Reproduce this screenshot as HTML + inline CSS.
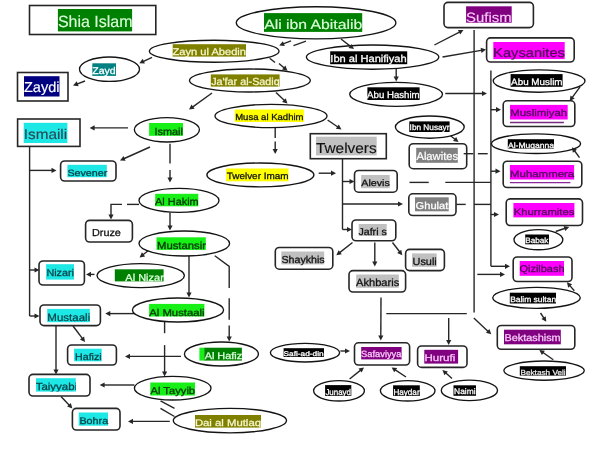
<!DOCTYPE html>
<html><head><meta charset="utf-8"><title>Shia Islam</title>
<style>
html,body{margin:0;padding:0;background:#fff;}
body{width:600px;height:464px;overflow:hidden;}
svg{display:block;font-family:"Liberation Sans",sans-serif;text-rendering:geometricPrecision;will-change:transform;filter:blur(0.35px);}
</style></head>
<body>
<svg width="600" height="464" viewBox="0 0 600 464">
<rect width="600" height="464" fill="#fff"/>
<path d="M474.1 30 L474.1 312.4" fill="none" stroke="#262626" stroke-width="1.4"/>
<path d="M490.9 70.5 L490.9 266.3" fill="none" stroke="#262626" stroke-width="1.4"/>
<path d="M490.9 266.3 L506.5 266.3" fill="none" stroke="#262626" stroke-width="1.4"/>
<path d="M466.8 313.6 L386.3 313.6" fill="none" stroke="#262626" stroke-width="1.4"/>
<path d="M306 41.2 L293.5 45.6" fill="none" stroke="#262626" stroke-width="1.4"/>
<path d="M291 40.8 L282.5 44.1" fill="none" stroke="#262626" stroke-width="1.4"/>
<path d="M341 39 L351.2 46.9" fill="none" stroke="#262626" stroke-width="1.4"/>
<path d="M152 57.3 L142.5 61.8" fill="none" stroke="#262626" stroke-width="1.4"/>
<path d="M85 81 L76.3 84.3" fill="none" stroke="#262626" stroke-width="1.4"/>
<path d="M269.7 58.3 L275 62.5" fill="none" stroke="#262626" stroke-width="1.4"/>
<path d="M279 63.5 L284.8 68.5" fill="none" stroke="#262626" stroke-width="1.4"/>
<path d="M212 93 L191.8 107.6" fill="none" stroke="#262626" stroke-width="1.4"/>
<path d="M276 92.4 L285 101.1" fill="none" stroke="#262626" stroke-width="1.4"/>
<path d="M396.2 68.7 L396.2 78" fill="none" stroke="#262626" stroke-width="1.4"/>
<path d="M434.4 45 L460.4 31.6" fill="none" stroke="#262626" stroke-width="1.4"/>
<path d="M442.5 57 L482.6 50.1" fill="none" stroke="#262626" stroke-width="1.4"/>
<path d="M445.3 93.5 L483.5 93.5" fill="none" stroke="#262626" stroke-width="1.4"/>
<path d="M327.6 120 L338.6 127.5" fill="none" stroke="#262626" stroke-width="1.4"/>
<path d="M275.2 127.5 L275.2 138" fill="none" stroke="#262626" stroke-width="1.4"/>
<path d="M275.2 141.5 L275.2 150.5" fill="none" stroke="#262626" stroke-width="1.4"/>
<path d="M318.7 173.2 L332.5 173.2" fill="none" stroke="#262626" stroke-width="1.4"/>
<path d="M128 127.9 L93.1 127.9" fill="none" stroke="#262626" stroke-width="1.4"/>
<path d="M150 147 L123.2 159" fill="none" stroke="#262626" stroke-width="1.4"/>
<path d="M170 143.8 L170 163.5" fill="none" stroke="#262626" stroke-width="1.4"/>
<path d="M170 170 L170 179.1" fill="none" stroke="#262626" stroke-width="1.4"/>
<path d="M139 204.4 L127 204.4" fill="none" stroke="#262626" stroke-width="1.4"/>
<path d="M122 204.4 L111 204.4 L111 212" fill="none" stroke="#262626" stroke-width="1.4"/>
<path d="M111 212 L111 216" fill="none" stroke="#262626" stroke-width="1.4"/>
<path d="M170 212.4 L170 227" fill="none" stroke="#262626" stroke-width="1.4"/>
<path d="M149 250 L142.4 255.2" fill="none" stroke="#262626" stroke-width="1.4"/>
<path d="M189 256 L189 294" fill="none" stroke="#262626" stroke-width="1.4"/>
<path d="M214.8 255.7 L229.2 266.4 L229.2 287.9" fill="none" stroke="#262626" stroke-width="1.4"/>
<path d="M229.2 298.2 L229.2 319.7" fill="none" stroke="#262626" stroke-width="1.4"/>
<path d="M229.2 325.4 L229.2 338" fill="none" stroke="#262626" stroke-width="1.4"/>
<path d="M94.5 274.4 L89.5 274.4" fill="none" stroke="#262626" stroke-width="1.4"/>
<path d="M139 313.6 L108.8 313.6" fill="none" stroke="#262626" stroke-width="1.4"/>
<path d="M164.6 321.3 L164.6 333.2" fill="none" stroke="#262626" stroke-width="1.4"/>
<path d="M164.6 345.1 L164.6 373.1" fill="none" stroke="#262626" stroke-width="1.4"/>
<path d="M181 356.4 L128.5 356.4" fill="none" stroke="#262626" stroke-width="1.4"/>
<path d="M134.4 385 L103.1 385" fill="none" stroke="#262626" stroke-width="1.4"/>
<path d="M160.5 400.9 L174.5 408.3" fill="none" stroke="#262626" stroke-width="1.4"/>
<path d="M160.5 408.3 L174.5 416.5" fill="none" stroke="#262626" stroke-width="1.4"/>
<path d="M169.8 421.4 L131.5 421.4" fill="none" stroke="#262626" stroke-width="1.4"/>
<path d="M29.6 146.4 L29.6 316" fill="none" stroke="#262626" stroke-width="1.4"/>
<path d="M29.6 170.4 L53 170.4" fill="none" stroke="#262626" stroke-width="1.4"/>
<path d="M29.6 270 L36 270" fill="none" stroke="#262626" stroke-width="1.4"/>
<path d="M29.6 316 L36 316" fill="none" stroke="#262626" stroke-width="1.4"/>
<path d="M56 325.6 L56 370.9" fill="none" stroke="#262626" stroke-width="1.4"/>
<path d="M73 326 L82.9 339.2" fill="none" stroke="#262626" stroke-width="1.4"/>
<path d="M61 396.4 L70 405.9" fill="none" stroke="#262626" stroke-width="1.4"/>
<path d="M342.5 158.7 L342.5 229.5" fill="none" stroke="#262626" stroke-width="1.4"/>
<path d="M342.5 181.5 L351 181.5" fill="none" stroke="#262626" stroke-width="1.4"/>
<path d="M342.5 204 L399.5 204" fill="none" stroke="#262626" stroke-width="1.4"/>
<path d="M342.5 229.5 L348.5 229.5" fill="none" stroke="#262626" stroke-width="1.4"/>
<path d="M409.5 182.4 L428.7 182.4" fill="none" stroke="#262626" stroke-width="1.4"/>
<path d="M445.3 182.4 L490.9 182.4" fill="none" stroke="#262626" stroke-width="1.4"/>
<path d="M456.3 204.4 L465.7 204.4" fill="none" stroke="#262626" stroke-width="1.4"/>
<path d="M474.1 204.4 L490.9 204.4" fill="none" stroke="#262626" stroke-width="1.4"/>
<path d="M477.9 153.7 L487.7 153.7" fill="none" stroke="#262626" stroke-width="1.4"/>
<path d="M449.2 134.7 L455.7 139.8" fill="none" stroke="#262626" stroke-width="1.4"/>
<path d="M352.5 242.5 L339 253.1" fill="none" stroke="#262626" stroke-width="1.4"/>
<path d="M374.8 242.5 L374.8 263" fill="none" stroke="#262626" stroke-width="1.4"/>
<path d="M392.5 242.5 L400.2 252.5" fill="none" stroke="#262626" stroke-width="1.4"/>
<path d="M381 297.4 L380.8 337" fill="none" stroke="#262626" stroke-width="1.4"/>
<path d="M448.7 318 L448.7 341.5" fill="none" stroke="#262626" stroke-width="1.4"/>
<path d="M340.4 351 L346.5 351" fill="none" stroke="#262626" stroke-width="1.4"/>
<path d="M349.6 379 L361.3 369.6" fill="none" stroke="#262626" stroke-width="1.4"/>
<path d="M406 377 L394.5 369.3" fill="none" stroke="#262626" stroke-width="1.4"/>
<path d="M452 378.6 L445 372.3" fill="none" stroke="#262626" stroke-width="1.4"/>
<path d="M490.9 109.7 L497.5 109.7" fill="none" stroke="#262626" stroke-width="1.4"/>
<path d="M490.9 171.2 L497 171.2" fill="none" stroke="#262626" stroke-width="1.4"/>
<path d="M490.9 214.5 L495.5 214.5" fill="none" stroke="#262626" stroke-width="1.4"/>
<path d="M477.3 274.4 L501.5 274.4" fill="none" stroke="#262626" stroke-width="1.4"/>
<path d="M473.8 318 L488.7 331.9" fill="none" stroke="#262626" stroke-width="1.4"/>
<path d="M580 86.8 L571.8 98.2" fill="none" stroke="#262626" stroke-width="1.4"/>
<path d="M579.5 157.7 L574 150" fill="none" stroke="#262626" stroke-width="1.4"/>
<path d="M555.7 231.5 L565.9 228" fill="none" stroke="#262626" stroke-width="1.4"/>
<path d="M574.3 290.8 L569.2 284.9" fill="none" stroke="#262626" stroke-width="1.4"/>
<path d="M540.5 313 L544.4 318.9" fill="none" stroke="#262626" stroke-width="1.4"/>
<path d="M553.3 359.8 L542.2 352" fill="none" stroke="#262626" stroke-width="1.4"/>
<rect x="29.5" y="5.5" width="126.3" height="29" rx="0" fill="#fff" stroke="#262626" stroke-width="1.6"/>
<rect x="57.9" y="9" width="74.2" height="22.4" fill="#008000"/>
<text x="57.9" y="27" font-size="16.3" fill="#dcffdc" stroke="#dcffdc" stroke-width="0.15" textLength="74.6" lengthAdjust="spacingAndGlyphs">Shia Islam</text>
<rect x="17.5" y="72.5" width="50.5" height="28.5" rx="0" fill="#fff" stroke="#262626" stroke-width="1.6"/>
<rect x="24" y="76.2" width="35.5" height="20.3" fill="#000080"/>
<text x="24" y="91.6" font-size="14.5" fill="#ffffff" stroke="#ffffff" stroke-width="0.15" textLength="35.5" lengthAdjust="spacingAndGlyphs">Zaydi</text>
<rect x="17.6" y="119" width="62.4" height="27.4" rx="0" fill="#fff" stroke="#262626" stroke-width="1.6"/>
<rect x="23.7" y="122.8" width="43.7" height="20.2" fill="#1ee8e6"/>
<text x="23.8" y="138.7" font-size="14.1" fill="#2a4756" stroke="#2a4756" stroke-width="0.15" textLength="43.3" lengthAdjust="spacingAndGlyphs">Ismaili</text>
<rect x="60.6" y="161" width="55.4" height="20" rx="4" fill="#fff" stroke="#262626" stroke-width="1.6"/>
<rect x="67.4" y="164.8" width="39.4" height="12.4" fill="#1ee8e6"/>
<text x="67.4" y="175.6" font-size="9.1" fill="#083e44" stroke="#083e44" stroke-width="0.28" textLength="39.9" lengthAdjust="spacingAndGlyphs">Sevener</text>
<rect x="85.6" y="220.4" width="46.8" height="21.6" rx="4" fill="#fff" stroke="#262626" stroke-width="1.6"/>
<text x="92" y="235.5" font-size="10.1" fill="#111111" stroke="#111111" stroke-width="0.28" textLength="28.9" lengthAdjust="spacingAndGlyphs">Druze</text>
<rect x="39" y="261" width="45.4" height="24" rx="4" fill="#fff" stroke="#262626" stroke-width="1.6"/>
<rect x="46.1" y="264.2" width="27.9" height="15.4" fill="#1ee8e6"/>
<text x="46.4" y="275.6" font-size="9.8" fill="#083e44" stroke="#083e44" stroke-width="0.28" textLength="27.6" lengthAdjust="spacingAndGlyphs">Nizari</text>
<rect x="40" y="305" width="60.4" height="20.6" rx="4" fill="#fff" stroke="#262626" stroke-width="1.6"/>
<rect x="47.2" y="308.9" width="42.6" height="13.3" fill="#1ee8e6"/>
<text x="47.3" y="321.4" font-size="10.6" fill="#083e44" stroke="#083e44" stroke-width="0.22" textLength="42.9" lengthAdjust="spacingAndGlyphs">Mustaali</text>
<rect x="67.6" y="345" width="48.8" height="20" rx="4" fill="#fff" stroke="#262626" stroke-width="1.6"/>
<rect x="74.1" y="348.7" width="27.6" height="12.6" fill="#1ee8e6"/>
<text x="75" y="360.4" font-size="9.6" fill="#083e44" stroke="#083e44" stroke-width="0.28" textLength="26.7" lengthAdjust="spacingAndGlyphs">Hafizi</text>
<rect x="29" y="374.4" width="61" height="21.6" rx="4" fill="#fff" stroke="#262626" stroke-width="1.6"/>
<rect x="36" y="378.2" width="39.8" height="13.4" fill="#1ee8e6"/>
<clipPath id="c105"><rect x="36" y="378.2" width="39.8" height="13.4"/></clipPath>
<text x="35.7" y="390.4" font-size="10.2" fill="#083e44" stroke="#083e44" stroke-width="0.28" textLength="41.5" lengthAdjust="spacingAndGlyphs" clip-path="url(#c105)">Taiyyabi</text>
<rect x="72.4" y="408.4" width="47.6" height="21.6" rx="4" fill="#fff" stroke="#262626" stroke-width="1.6"/>
<rect x="78.7" y="412.5" width="29.3" height="13.2" fill="#1ee8e6"/>
<text x="79.4" y="423.8" font-size="9.6" fill="#083e44" stroke="#083e44" stroke-width="0.28" textLength="28.8" lengthAdjust="spacingAndGlyphs">Bohra</text>
<rect x="310.3" y="133.7" width="76" height="25" rx="0" fill="#fff" stroke="#262626" stroke-width="1.6"/>
<rect x="316" y="136.7" width="60.7" height="18.7" fill="#c0c0c0"/>
<text x="316" y="153.1" font-size="14.5" fill="#111111" stroke="#111111" stroke-width="0.15" textLength="60.6" lengthAdjust="spacingAndGlyphs">Twelvers</text>
<rect x="354.5" y="170.5" width="42.7" height="21.7" rx="4" fill="#fff" stroke="#262626" stroke-width="1.6"/>
<rect x="361.1" y="175" width="28.6" height="13.2" fill="#c0c0c0"/>
<text x="361.3" y="185.5" font-size="9.2" fill="#111111" stroke="#111111" stroke-width="0.28" textLength="28.5" lengthAdjust="spacingAndGlyphs">Alevis</text>
<rect x="409.2" y="143.7" width="57.5" height="25" rx="4" fill="#fff" stroke="#262626" stroke-width="1.6"/>
<rect x="416.2" y="147.8" width="41.6" height="15" fill="#808080"/>
<text x="416.4" y="160.2" font-size="11.3" fill="#ffffff" stroke="#ffffff" stroke-width="0.22" textLength="41.8" lengthAdjust="spacingAndGlyphs">Alawites</text>
<rect x="408.8" y="193.8" width="47.2" height="21.7" rx="4" fill="#fff" stroke="#262626" stroke-width="1.6"/>
<rect x="415" y="197.3" width="33.7" height="14" fill="#808080"/>
<text x="415.6" y="208.7" font-size="9.9" fill="#ffffff" stroke="#ffffff" stroke-width="0.28" textLength="32.8" lengthAdjust="spacingAndGlyphs">Ghulat</text>
<rect x="352" y="220" width="43.8" height="20.8" rx="4" fill="#fff" stroke="#262626" stroke-width="1.6"/>
<rect x="358.7" y="224" width="28" height="12" fill="#c0c0c0"/>
<text x="358.4" y="235.2" font-size="9.9" fill="#111111" stroke="#111111" stroke-width="0.28" textLength="28.4" lengthAdjust="spacingAndGlyphs">Jafri s</text>
<rect x="275.3" y="247.5" width="57.5" height="21.7" rx="4" fill="#fff" stroke="#262626" stroke-width="1.6"/>
<rect x="281.3" y="251.5" width="42.9" height="12.9" fill="#c0c0c0"/>
<text x="281.5" y="262.7" font-size="10.1" fill="#111111" stroke="#111111" stroke-width="0.28" textLength="43.2" lengthAdjust="spacingAndGlyphs">Shaykhis</text>
<rect x="405.6" y="249.4" width="38.8" height="21.2" rx="4" fill="#fff" stroke="#262626" stroke-width="1.6"/>
<rect x="412" y="253.4" width="24.7" height="13.4" fill="#c0c0c0"/>
<text x="412.5" y="265.1" font-size="10.3" fill="#111111" stroke="#111111" stroke-width="0.28" textLength="24.3" lengthAdjust="spacingAndGlyphs">Usuli</text>
<rect x="349" y="270.6" width="56.6" height="21.4" rx="4" fill="#fff" stroke="#262626" stroke-width="1.6"/>
<rect x="356.2" y="274.5" width="42.6" height="13.3" fill="#c0c0c0"/>
<text x="356.1" y="286" font-size="10.5" fill="#111111" stroke="#111111" stroke-width="0.28" textLength="43.1" lengthAdjust="spacingAndGlyphs">Akhbaris</text>
<rect x="354.5" y="342.8" width="55.1" height="22.2" rx="4" fill="#fff" stroke="#262626" stroke-width="1.6"/>
<rect x="361.2" y="347" width="40.4" height="12.4" fill="#800080"/>
<text x="361" y="357.2" font-size="9.1" fill="#f8c8f8" stroke="#f8c8f8" stroke-width="0.28" textLength="40.5" lengthAdjust="spacingAndGlyphs">Safaviyya</text>
<rect x="417.6" y="346" width="49.4" height="21.4" rx="4" fill="#fff" stroke="#262626" stroke-width="1.6"/>
<rect x="424.3" y="349.8" width="33.8" height="13.8" fill="#800080"/>
<text x="424.5" y="361" font-size="9.6" fill="#f8c8f8" stroke="#f8c8f8" stroke-width="0.28" textLength="30.7" lengthAdjust="spacingAndGlyphs">Hurufi</text>
<rect x="444" y="2.4" width="89.4" height="25.2" rx="4" fill="#fff" stroke="#262626" stroke-width="1.6"/>
<rect x="466.1" y="6.3" width="45.6" height="16.4" fill="#800080"/>
<text x="466.1" y="21.6" font-size="13.5" fill="#f8c8f8" stroke="#f8c8f8" stroke-width="0.15" textLength="45.5" lengthAdjust="spacingAndGlyphs">Sufism</text>
<rect x="486.6" y="37.9" width="87.6" height="24.1" rx="4" fill="#fff" stroke="#262626" stroke-width="1.6"/>
<rect x="493.3" y="42" width="71.4" height="17.1" fill="#ff00ff"/>
<text x="493.1" y="56.9" font-size="12.6" fill="#4d0a55" stroke="#4d0a55" stroke-width="0.22" textLength="71.8" lengthAdjust="spacingAndGlyphs">Kaysanites</text>
<rect x="503.2" y="100.8" width="71.6" height="25.7" rx="4" fill="#fff" stroke="#262626" stroke-width="1.6"/>
<rect x="510" y="104.9" width="57.7" height="14.6" fill="#ff00ff"/>
<text x="510.3" y="116.4" font-size="9.6" fill="#4d0a55" stroke="#4d0a55" stroke-width="0.28" textLength="56.9" lengthAdjust="spacingAndGlyphs">Muslimiyah</text>
<line x1="510" y1="122.5" x2="563.9" y2="122.5" stroke="#7a2a80" stroke-width="1.3"/>
<rect x="503.2" y="161.2" width="78.6" height="26.3" rx="4" fill="#fff" stroke="#262626" stroke-width="1.6"/>
<rect x="509.9" y="165" width="64.2" height="14.5" fill="#ff00ff"/>
<text x="510" y="176.8" font-size="9.2" fill="#4d0a55" stroke="#4d0a55" stroke-width="0.28" textLength="64.2" lengthAdjust="spacingAndGlyphs">Muhammera</text>
<line x1="509.9" y1="182.6" x2="570.4" y2="182.6" stroke="#8a2a9a" stroke-width="1.3"/>
<rect x="506.2" y="198.9" width="76.3" height="26.6" rx="4" fill="#fff" stroke="#262626" stroke-width="1.6"/>
<rect x="513.4" y="203" width="61" height="14.4" fill="#ff00ff"/>
<text x="513.7" y="214.6" font-size="9.1" fill="#4d0a55" stroke="#4d0a55" stroke-width="0.28" textLength="60.7" lengthAdjust="spacingAndGlyphs">Khurramites</text>
<rect x="513.2" y="257" width="58.8" height="24.5" rx="4" fill="#fff" stroke="#262626" stroke-width="1.6"/>
<rect x="519.7" y="261" width="44.3" height="14.8" fill="#ff00ff"/>
<text x="519.5" y="272.3" font-size="9.8" fill="#4d0a55" stroke="#4d0a55" stroke-width="0.28" textLength="45" lengthAdjust="spacingAndGlyphs">Qizilbash</text>
<rect x="497.3" y="325.5" width="77.5" height="23.8" rx="4" fill="#fff" stroke="#262626" stroke-width="1.6"/>
<rect x="504" y="329.7" width="56.8" height="14.6" fill="#800080"/>
<text x="504.4" y="340.9" font-size="9.9" fill="#f8c8f8" stroke="#f8c8f8" stroke-width="0.28" textLength="56.3" lengthAdjust="spacingAndGlyphs">Bektashism</text>
<ellipse cx="316.1" cy="22.8" rx="79.8" ry="16" fill="#fff" stroke="#141414" stroke-width="1.35"/>
<rect x="264" y="13.1" width="98.2" height="18.8" fill="#008000"/>
<text x="264.2" y="29.1" font-size="13.3" fill="#dcffdc" stroke="#dcffdc" stroke-width="0.15" textLength="98.1" lengthAdjust="spacingAndGlyphs">Ali ibn Abitalib</text>
<ellipse cx="214.2" cy="51.2" rx="64.8" ry="11" fill="#fff" stroke="#141414" stroke-width="1.35"/>
<rect x="172.7" y="44.2" width="73.3" height="12.4" fill="#808000"/>
<text x="172.6" y="55.3" font-size="9.8" fill="#f6f6cc" stroke="#f6f6cc" stroke-width="0.28" textLength="73.4" lengthAdjust="spacingAndGlyphs">Zayn ul Abedin</text>
<ellipse cx="109.5" cy="69.2" rx="30" ry="12.2" fill="#fff" stroke="#141414" stroke-width="1.35"/>
<rect x="92.3" y="63.3" width="23.7" height="12.6" fill="#008080"/>
<text x="92.3" y="74.3" font-size="9.8" fill="#ffffff" stroke="#ffffff" stroke-width="0.28" textLength="23.4" lengthAdjust="spacingAndGlyphs">Zayd</text>
<ellipse cx="249.9" cy="80.5" rx="60.4" ry="11.5" fill="#fff" stroke="#141414" stroke-width="1.35"/>
<rect x="210.8" y="74.4" width="68.8" height="12.2" fill="#808000"/>
<clipPath id="c174"><rect x="210.8" y="74.4" width="68.8" height="12.2"/></clipPath>
<text x="211.2" y="85.4" font-size="10.3" fill="#f6f6cc" stroke="#f6f6cc" stroke-width="0.28" textLength="68.5" lengthAdjust="spacingAndGlyphs" clip-path="url(#c174)">Ja'far al-Sadiq</text>
<ellipse cx="372.6" cy="57.1" rx="66.2" ry="12.1" fill="#fff" stroke="#141414" stroke-width="1.35"/>
<rect x="330.2" y="51.3" width="77" height="12.9" fill="#000000"/>
<text x="330.3" y="62.2" font-size="10.1" fill="#ffffff" stroke="#ffffff" stroke-width="0.28" textLength="76.4" lengthAdjust="spacingAndGlyphs">Ibn al Hanifiyah</text>
<ellipse cx="396.1" cy="94.3" rx="46.4" ry="12" fill="#fff" stroke="#141414" stroke-width="1.35"/>
<rect x="367.4" y="87.3" width="52.2" height="12.7" fill="#000000"/>
<text x="367.1" y="98.1" font-size="9.5" fill="#ffffff" stroke="#ffffff" stroke-width="0.28" textLength="52.5" lengthAdjust="spacingAndGlyphs">Abu Hashim</text>
<ellipse cx="271" cy="116" rx="56" ry="11.6" fill="#fff" stroke="#141414" stroke-width="1.35"/>
<rect x="234.8" y="109.5" width="69.1" height="12.5" fill="#ffff00"/>
<text x="235.2" y="119.8" font-size="8.8" fill="#111111" stroke="#111111" stroke-width="0.28" textLength="68.3" lengthAdjust="spacingAndGlyphs">Musa al Kadhim</text>
<ellipse cx="166.9" cy="129.8" rx="32.5" ry="12.2" fill="#fff" stroke="#141414" stroke-width="1.35"/>
<rect x="149.1" y="123" width="33.9" height="12.8" fill="#16f016"/>
<text x="154.5" y="134.7" font-size="10.2" fill="#0c300c" stroke="#0c300c" stroke-width="0.28" textLength="28.4" lengthAdjust="spacingAndGlyphs">Ismail</text>
<ellipse cx="260.4" cy="174.9" rx="53.5" ry="11.9" fill="#fff" stroke="#141414" stroke-width="1.35"/>
<rect x="226.1" y="168.5" width="62.4" height="12.8" fill="#ffff00"/>
<text x="226.7" y="178.9" font-size="9.1" fill="#111111" stroke="#111111" stroke-width="0.28" textLength="61.9" lengthAdjust="spacingAndGlyphs">Twelver Imam</text>
<ellipse cx="179" cy="200.4" rx="40" ry="12" fill="#fff" stroke="#141414" stroke-width="1.35"/>
<rect x="155.2" y="193.8" width="43.1" height="12.5" fill="#16f016"/>
<text x="155.1" y="205.4" font-size="10.1" fill="#0c300c" stroke="#0c300c" stroke-width="0.28" textLength="43.6" lengthAdjust="spacingAndGlyphs">Al Hakim</text>
<ellipse cx="184.3" cy="243.5" rx="45.3" ry="12.5" fill="#fff" stroke="#141414" stroke-width="1.35"/>
<rect x="156.5" y="237.3" width="49.3" height="12.6" fill="#16f016"/>
<text x="157" y="249" font-size="10.3" fill="#0c300c" stroke="#0c300c" stroke-width="0.28" textLength="49" lengthAdjust="spacingAndGlyphs">Mustansir</text>
<ellipse cx="140.7" cy="275.6" rx="43.7" ry="12" fill="#fff" stroke="#141414" stroke-width="1.35"/>
<rect x="114.8" y="269.3" width="48.8" height="12.1" fill="#008000"/>
<text x="125.3" y="280.5" font-size="10.1" fill="#dcffdc" stroke="#dcffdc" stroke-width="0.28" textLength="38.6" lengthAdjust="spacingAndGlyphs">Al Nizar</text>
<ellipse cx="178" cy="310" rx="45.6" ry="12" fill="#fff" stroke="#141414" stroke-width="1.35"/>
<rect x="149.1" y="303.9" width="55.3" height="12.6" fill="#16f016"/>
<text x="149.2" y="315.5" font-size="9.9" fill="#0c300c" stroke="#0c300c" stroke-width="0.28" textLength="55.4" lengthAdjust="spacingAndGlyphs">Al Mustaali</text>
<ellipse cx="221.4" cy="354" rx="37" ry="12" fill="#fff" stroke="#141414" stroke-width="1.35"/>
<rect x="199.4" y="347.7" width="5.2" height="12.9" fill="#16f016"/>
<rect x="204.3" y="347.7" width="37.6" height="12.9" fill="#008000"/>
<text x="204.7" y="358.6" font-size="9.6" fill="#dcffdc" stroke="#dcffdc" stroke-width="0.28" textLength="37.4" lengthAdjust="spacingAndGlyphs">Al Hafiz</text>
<ellipse cx="172.7" cy="388.2" rx="38.3" ry="11.8" fill="#fff" stroke="#141414" stroke-width="1.35"/>
<rect x="150.3" y="382.5" width="44.7" height="13" fill="#16f016"/>
<text x="150.5" y="393.8" font-size="9.9" fill="#0c300c" stroke="#0c300c" stroke-width="0.28" textLength="44.6" lengthAdjust="spacingAndGlyphs">Al Tayyib</text>
<ellipse cx="229.9" cy="420.6" rx="56.6" ry="12.2" fill="#fff" stroke="#141414" stroke-width="1.35"/>
<rect x="195" y="415" width="66" height="12.6" fill="#808000"/>
<clipPath id="c212"><rect x="195" y="415" width="66" height="12.6"/></clipPath>
<text x="194.9" y="425.8" font-size="9.6" fill="#f6f6cc" stroke="#f6f6cc" stroke-width="0.28" textLength="66.1" lengthAdjust="spacingAndGlyphs" clip-path="url(#c212)">Dai al Mutlaq</text>
<ellipse cx="429.8" cy="127.1" rx="34.4" ry="11.1" fill="#fff" stroke="#141414" stroke-width="1.35"/>
<rect x="409.3" y="121.4" width="40.3" height="10.6" fill="#000000"/>
<text x="409.6" y="130" font-size="8.1" fill="#ffffff" stroke="#ffffff" stroke-width="0.28" textLength="39.9" lengthAdjust="spacingAndGlyphs">Ibn Nusayr</text>
<ellipse cx="539.1" cy="81" rx="45.9" ry="11.2" fill="#fff" stroke="#141414" stroke-width="1.35"/>
<rect x="510.6" y="74.1" width="52" height="12.7" fill="#000000"/>
<text x="511.1" y="84.6" font-size="9.1" fill="#ffffff" stroke="#ffffff" stroke-width="0.28" textLength="51.5" lengthAdjust="spacingAndGlyphs">Abu Muslim</text>
<ellipse cx="536" cy="143.7" rx="44.6" ry="9.8" fill="#fff" stroke="#141414" stroke-width="1.35"/>
<rect x="507.8" y="139.2" width="46.2" height="9.4" fill="#000000"/>
<text x="508" y="147.5" font-size="7.8" fill="#ffffff" stroke="#ffffff" stroke-width="0.28" textLength="46.1" lengthAdjust="spacingAndGlyphs">Al-Muqanna</text>
<ellipse cx="538.4" cy="239.7" rx="24.4" ry="10.1" fill="#fff" stroke="#141414" stroke-width="1.35"/>
<rect x="525.2" y="234.5" width="23.8" height="9.8" fill="#000000"/>
<text x="525.2" y="242.8" font-size="7.7" fill="#ffffff" stroke="#ffffff" stroke-width="0.28" textLength="23.3" lengthAdjust="spacingAndGlyphs">Babak</text>
<ellipse cx="536.5" cy="297.8" rx="43.8" ry="10.5" fill="#fff" stroke="#141414" stroke-width="1.35"/>
<rect x="509.8" y="292.7" width="46.2" height="10.8" fill="#000000"/>
<text x="510.2" y="301.5" font-size="7.8" fill="#ffffff" stroke="#ffffff" stroke-width="0.28" textLength="45.9" lengthAdjust="spacingAndGlyphs">Balim sultan</text>
<ellipse cx="544.1" cy="370.6" rx="40.2" ry="9.6" fill="#fff" stroke="#141414" stroke-width="1.35"/>
<rect x="519.8" y="366.2" width="46.2" height="9.4" fill="#000000"/>
<text x="520.5" y="374.7" font-size="7.4" fill="#e8e8e8" stroke="#e8e8e8" stroke-width="0.28" textLength="45.1" lengthAdjust="spacingAndGlyphs">Bektash Veli</text>
<ellipse cx="305" cy="352.7" rx="34.6" ry="9.3" fill="#fff" stroke="#141414" stroke-width="1.35"/>
<rect x="283.6" y="348.2" width="40.4" height="8.8" fill="#000000"/>
<text x="283.5" y="356.2" font-size="6.8" fill="#ffffff" stroke="#ffffff" stroke-width="0.28" textLength="40.2" lengthAdjust="spacingAndGlyphs">Safi-ad-din</text>
<ellipse cx="339" cy="390.8" rx="25.4" ry="10.2" fill="#fff" stroke="#141414" stroke-width="1.35"/>
<rect x="325.1" y="385.1" width="26.2" height="10.8" fill="#000000"/>
<text x="325.4" y="394.5" font-size="8.4" fill="#ffffff" stroke="#ffffff" stroke-width="0.28" textLength="25.6" lengthAdjust="spacingAndGlyphs">Junayd</text>
<ellipse cx="407.7" cy="390.8" rx="27.3" ry="10.2" fill="#fff" stroke="#141414" stroke-width="1.35"/>
<rect x="393.1" y="385.3" width="26.7" height="10.6" fill="#000000"/>
<text x="393.4" y="394.5" font-size="8.4" fill="#ffffff" stroke="#ffffff" stroke-width="0.28" textLength="26.2" lengthAdjust="spacingAndGlyphs">Haydar</text>
<ellipse cx="469.4" cy="390.4" rx="28.1" ry="10.2" fill="#fff" stroke="#141414" stroke-width="1.35"/>
<rect x="453.5" y="385.3" width="22.5" height="10.5" fill="#000000"/>
<text x="454.1" y="394.4" font-size="8" fill="#ffffff" stroke="#ffffff" stroke-width="0.28" textLength="21.4" lengthAdjust="spacingAndGlyphs">Naimi</text>
<path d="M510 266.3 L505 268.9 L505 263.7 Z" fill="#262626"/>
<path d="M279.2 45.4 L282.9 41.2 L284.8 46 Z" fill="#262626"/>
<path d="M354 49 L348.5 48 L351.6 43.9 Z" fill="#262626"/>
<path d="M139.3 63.3 L142.7 58.8 L144.9 63.5 Z" fill="#262626"/>
<path d="M73 85.5 L76.8 81.3 L78.6 86.2 Z" fill="#262626"/>
<path d="M287.5 70.8 L282 69.5 L285.4 65.6 Z" fill="#262626"/>
<path d="M189 109.6 L191.5 104.6 L194.6 108.8 Z" fill="#262626"/>
<path d="M287.5 103.5 L282.1 101.9 L285.7 98.2 Z" fill="#262626"/>
<path d="M396.2 81.5 L393.6 76.5 L398.8 76.5 Z" fill="#262626"/>
<path d="M463.5 30 L460.2 34.6 L457.9 30 Z" fill="#262626"/>
<path d="M486 49.5 L481.5 52.9 L480.6 47.8 Z" fill="#262626"/>
<path d="M487 93.5 L482 96.1 L482 90.9 Z" fill="#262626"/>
<path d="M341.5 129.5 L335.9 128.8 L338.8 124.5 Z" fill="#262626"/>
<path d="M275.2 154 L272.6 149 L277.8 149 Z" fill="#262626"/>
<path d="M336 173.2 L331 175.8 L331 170.6 Z" fill="#262626"/>
<path d="M89.6 127.9 L94.6 125.3 L94.6 130.5 Z" fill="#262626"/>
<path d="M120 160.4 L123.5 156 L125.6 160.7 Z" fill="#262626"/>
<path d="M170 182.6 L167.4 177.6 L172.6 177.6 Z" fill="#262626"/>
<path d="M111 219.5 L108.4 214.5 L113.6 214.5 Z" fill="#262626"/>
<path d="M170 230.5 L167.4 225.5 L172.6 225.5 Z" fill="#262626"/>
<path d="M139.6 257.4 L141.9 252.3 L145.1 256.4 Z" fill="#262626"/>
<path d="M189 297.5 L186.4 292.5 L191.6 292.5 Z" fill="#262626"/>
<path d="M229.2 341.5 L226.6 336.5 L231.8 336.5 Z" fill="#262626"/>
<path d="M86 274.4 L91 271.8 L91 277 Z" fill="#262626"/>
<path d="M105.3 313.6 L110.3 311 L110.3 316.2 Z" fill="#262626"/>
<path d="M164.6 376.6 L162 371.6 L167.2 371.6 Z" fill="#262626"/>
<path d="M125 356.4 L130 353.8 L130 359 Z" fill="#262626"/>
<path d="M99.6 385 L104.6 382.4 L104.6 387.6 Z" fill="#262626"/>
<path d="M128 421.4 L133 418.8 L133 424 Z" fill="#262626"/>
<path d="M56.5 170.4 L51.5 173 L51.5 167.8 Z" fill="#262626"/>
<path d="M39.5 270 L34.5 272.6 L34.5 267.4 Z" fill="#262626"/>
<path d="M39.5 316 L34.5 318.6 L34.5 313.4 Z" fill="#262626"/>
<path d="M56 374.4 L53.4 369.4 L58.6 369.4 Z" fill="#262626"/>
<path d="M85 342 L79.9 339.6 L84.1 336.4 Z" fill="#262626"/>
<path d="M72.4 408.4 L67.1 406.6 L70.8 403 Z" fill="#262626"/>
<path d="M354.5 181.5 L349.5 184.1 L349.5 178.9 Z" fill="#262626"/>
<path d="M403 204 L398 206.6 L398 201.4 Z" fill="#262626"/>
<path d="M352 229.5 L347 232.1 L347 226.9 Z" fill="#262626"/>
<path d="M463.7 153.7 L473.3 153.7" fill="none" stroke="#262626" stroke-width="1.4"/>
<path d="M458.5 142 L453 141 L456.2 136.9 Z" fill="#262626"/>
<path d="M336.3 255.3 L338.6 250.2 L341.8 254.2 Z" fill="#262626"/>
<path d="M374.8 266.5 L372.2 261.5 L377.4 261.5 Z" fill="#262626"/>
<path d="M402.3 255.3 L397.2 252.9 L401.3 249.7 Z" fill="#262626"/>
<path d="M380.8 340.5 L378.2 335.5 L383.4 335.5 Z" fill="#262626"/>
<path d="M448.7 345 L446.1 340 L451.3 340 Z" fill="#262626"/>
<path d="M350 351 L345 353.6 L345 348.4 Z" fill="#262626"/>
<path d="M364 367.4 L361.7 372.6 L358.5 368.5 Z" fill="#262626"/>
<path d="M391.6 367.4 L397.2 368 L394.3 372.3 Z" fill="#262626"/>
<path d="M442.4 370 L447.9 371.4 L444.4 375.3 Z" fill="#262626"/>
<path d="M501 109.7 L496 112.3 L496 107.1 Z" fill="#262626"/>
<path d="M500.5 171.2 L495.5 173.8 L495.5 168.6 Z" fill="#262626"/>
<path d="M499 214.5 L494 217.1 L494 211.9 Z" fill="#262626"/>
<path d="M505 274.4 L500 277 L500 271.8 Z" fill="#262626"/>
<path d="M491.3 334.3 L485.9 332.8 L489.4 329 Z" fill="#262626"/>
<path d="M569.7 101 L570.5 95.4 L574.7 98.5 Z" fill="#262626"/>
<path d="M572 147.2 L577 149.8 L572.8 152.8 Z" fill="#262626"/>
<path d="M569.2 226.9 L565.3 231 L563.6 226.1 Z" fill="#262626"/>
<path d="M566.9 282.2 L572.1 284.3 L568.2 287.7 Z" fill="#262626"/>
<path d="M546.3 321.8 L541.4 319.1 L545.7 316.2 Z" fill="#262626"/>
<path d="M539.3 350 L544.9 350.7 L541.9 355 Z" fill="#262626"/>
</svg>
</body></html>
